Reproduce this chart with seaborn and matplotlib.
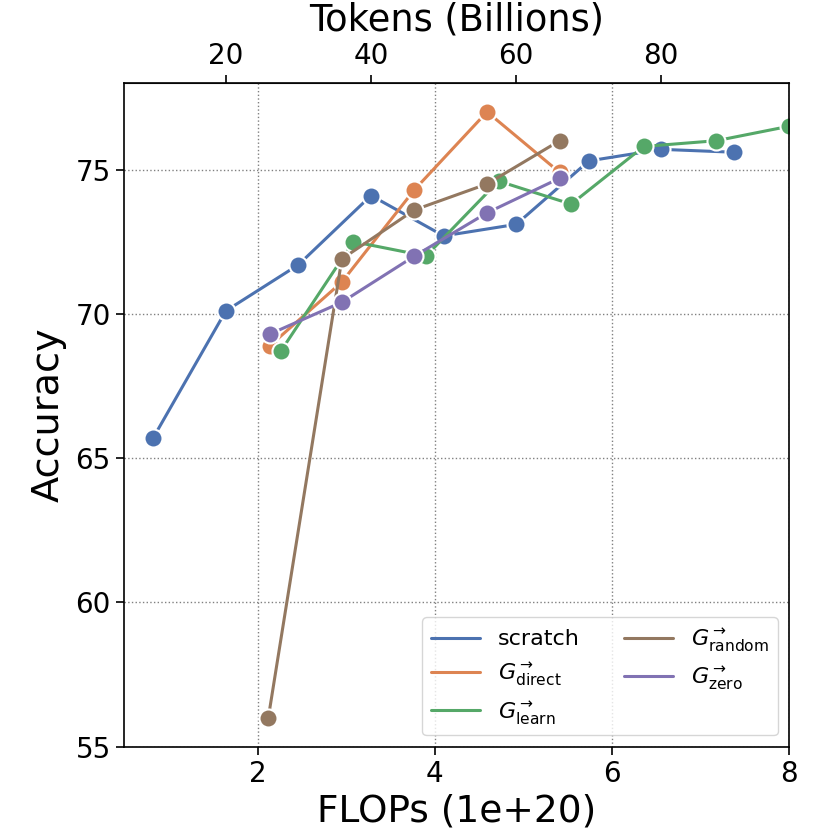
import matplotlib
matplotlib.use("Agg")
import matplotlib.pyplot as plt
import seaborn as sns
import pandas as pd

# ---- data ----
series_names = ["scratch", r"$G^{\rightarrow}_{\mathrm{direct}}$", r"$G^{\rightarrow}_{\mathrm{learn}}$",
                r"$G^{\rightarrow}_{\mathrm{random}}$", r"$G^{\rightarrow}_{\mathrm{zero}}$"]

scratch_flops = [0.82, 1.64, 2.46, 3.28, 4.10, 4.92, 5.74, 6.56, 7.38]
scratch_acc = [65.7, 70.1, 71.7, 74.1, 72.7, 73.1, 75.3, 75.7, 75.6]

direct_flops = [2.14, 2.95, 3.77, 4.59, 5.41]
direct_acc = [68.9, 71.1, 74.3, 77.0, 74.9]

learn_flops = [2.26, 3.08, 3.90, 4.72, 5.54, 6.36, 7.18, 8.00]
learn_acc = [68.7, 72.5, 72.0, 74.6, 73.8, 75.8, 76.0, 76.5]

random_flops = [2.12, 2.95, 3.77, 4.59, 5.41]
random_acc = [56.0, 71.9, 73.6, 74.5, 76.0]

zero_flops = [2.14, 2.95, 3.77, 4.59, 5.41]
zero_acc = [69.3, 70.4, 72.0, 73.5, 74.7]

tokens_per_flop = 12.2
y_ticks = [55, 60, 65, 70, 75]
x_ticks = [2, 4, 6, 8]
top_ticks = [20, 40, 60, 80]

rows = []
for name, xs, ys in zip(series_names,
                        [scratch_flops, direct_flops, learn_flops, random_flops, zero_flops],
                        [scratch_acc, direct_acc, learn_acc, random_acc, zero_acc]):
    for x, y in zip(xs, ys):
        rows.append({"FLOPs": x, "Accuracy": y, "method": name})
df = pd.DataFrame(rows)

sns.set_style("ticks")
plt.rcParams["font.family"] = ["DejaVu Sans"]
for k in ["text.color", "axes.labelcolor", "xtick.color", "ytick.color"]:
    plt.rcParams[k] = "black"

deep = sns.color_palette("deep")
palette = [deep[0], deep[1], deep[2], deep[5], deep[4]]

fig = plt.figure(figsize=(8.3, 8.3), dpi=100)
ax = fig.add_axes([0.1494, 0.1006, 0.8012, 0.7994])

sns.lineplot(data=df, x="FLOPs", y="Accuracy", hue="method", hue_order=series_names,
             palette=palette, marker="o", markersize=13, markeredgecolor="white",
             markeredgewidth=1.5, linewidth=2.2, ax=ax, clip_on=True)

ax.set_xlim(0.49, 8.0)
ax.set_ylim(55, 78)
ax.set_xticks(x_ticks)
ax.set_yticks(y_ticks)
ax.grid(True, linestyle=":", color="gray", linewidth=1.0)
for s in ax.spines.values():
    s.set_color("black")
    s.set_linewidth(1.2)
ax.tick_params(labelsize=20, length=6, width=1.2, colors="black")
ax.set_xlabel("FLOPs (1e+20)", fontsize=27, labelpad=4)
ax.set_ylabel("Accuracy", fontsize=27.5, labelpad=6)

sec = ax.secondary_xaxis("top", functions=(lambda x: x * tokens_per_flop,
                                           lambda t: t / tokens_per_flop))
sec.set_xticks(top_ticks)
sec.tick_params(labelsize=20, length=6, width=1.2, colors="black")
sec.set_xlabel("Tokens (Billions)", fontsize=26.5, labelpad=8)

handles, labels = ax.get_legend_handles_labels()
for h in handles:
    h.set_marker("")
leg = ax.legend(handles, labels, loc="lower right", ncol=2, fontsize=16,
                frameon=True, fancybox=True, framealpha=0.8, borderaxespad=0.5,
                handlelength=2.2, columnspacing=2.0)
leg.get_frame().set_edgecolor("#cccccc")

fig.savefig("out.png", dpi=100)
